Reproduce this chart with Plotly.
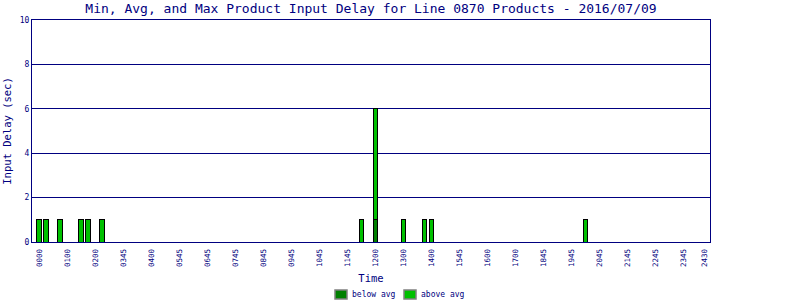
import plotly.graph_objects as go

# ---- data ----
times = ["0000", "0015", "0045", "0130", "0145", "0215",
         "1130", "1200", "1300", "1345", "1400", "1930"]
below_avg = [0, 0, 0, 0, 0, 0, 0, 1, 0, 0, 0, 0]
above_avg = [1, 1, 1, 1, 1, 1, 1, 5, 1, 1, 1, 1]

tick_labels = ["0000", "0100", "0200", "0345", "0400", "0545", "0645", "0745",
               "0845", "0945", "1045", "1145", "1200", "1300", "1400", "1545",
               "1600", "1700", "1845", "1945", "2045", "2145", "2245", "2345",
               "2430"]
tick_pos = list(range(24)) + [23.75]

title = "Min, Avg, and Max Product Input Delay for Line 0870 Products - 2016/07/09"
series_names = ["below avg", "above avg"]
colors = ["#008000", "#00C000"]

x_hours = [int(t[:2]) + int(t[2:]) / 60 for t in times]

NAVY = "#000080"
FONT = "DejaVu Sans Mono"

fig = go.Figure()
for name, vals, col in zip(series_names, [below_avg, above_avg], colors):
    fig.add_trace(go.Bar(
        x=x_hours, y=vals, name=name, width=0.17,
        marker=dict(color=col, line=dict(color="black", width=1)),
        showlegend=False,
    ))

fig.update_layout(
    width=800, height=300,
    margin=dict(l=32, r=90, t=20, b=58),
    barmode="stack",
    plot_bgcolor="white", paper_bgcolor="white",
    font=dict(family=FONT, color=NAVY),
    title=dict(text=title, x=0.5, xref="paper", y=0.972, yref="container",
               yanchor="middle", font=dict(size=13, color=NAVY, family=FONT)),
)

fig.update_xaxes(
    range=[-0.257, 23.94],
    tickmode="array", tickvals=tick_pos, ticktext=tick_labels,
    tickangle=-90, tickfont=dict(size=7.5, color=NAVY, family=FONT),
    ticklabelstandoff=3,
    showgrid=False, zeroline=False,
    showline=True, linecolor=NAVY, linewidth=1, mirror=True,
    ticks="", automargin=False,
    title=dict(text="Time", font=dict(size=10.5, color=NAVY, family=FONT), standoff=8),
)
fig.update_yaxes(
    range=[0, 10], tickvals=[0, 2, 4, 6, 8, 10],
    tickfont=dict(size=8, color=NAVY, family=FONT),
    showgrid=True, gridcolor=NAVY, gridwidth=1, zeroline=False,
    showline=True, linecolor=NAVY, linewidth=1, mirror=True,
    ticks="", automargin=False,
    title=dict(text="Input Delay (sec)", font=dict(size=10.5, color=NAVY, family=FONT), standoff=6),
)

# manual legend
W, H = 678.0, 222.0
def px(x):
    return (x - 32) / W
def py(y):
    return (242 - y) / H

legend_items = [(335, 347, 350, series_names[0], colors[0]),
                (404, 416, 419, series_names[1], colors[1])]
for sx0, sx1, tx, name, col in legend_items:
    fig.add_shape(type="rect", xref="paper", yref="paper",
                  x0=px(sx0), x1=px(sx1), y0=py(299), y1=py(290),
                  fillcolor=col, line=dict(color="#808080", width=1.5))
    fig.add_annotation(xref="paper", yref="paper", x=px(tx), y=py(294.5),
                       text=name, showarrow=False, xanchor="left", yanchor="middle",
                       font=dict(size=8, color=NAVY, family=FONT))

fig.write_html("out.html")
